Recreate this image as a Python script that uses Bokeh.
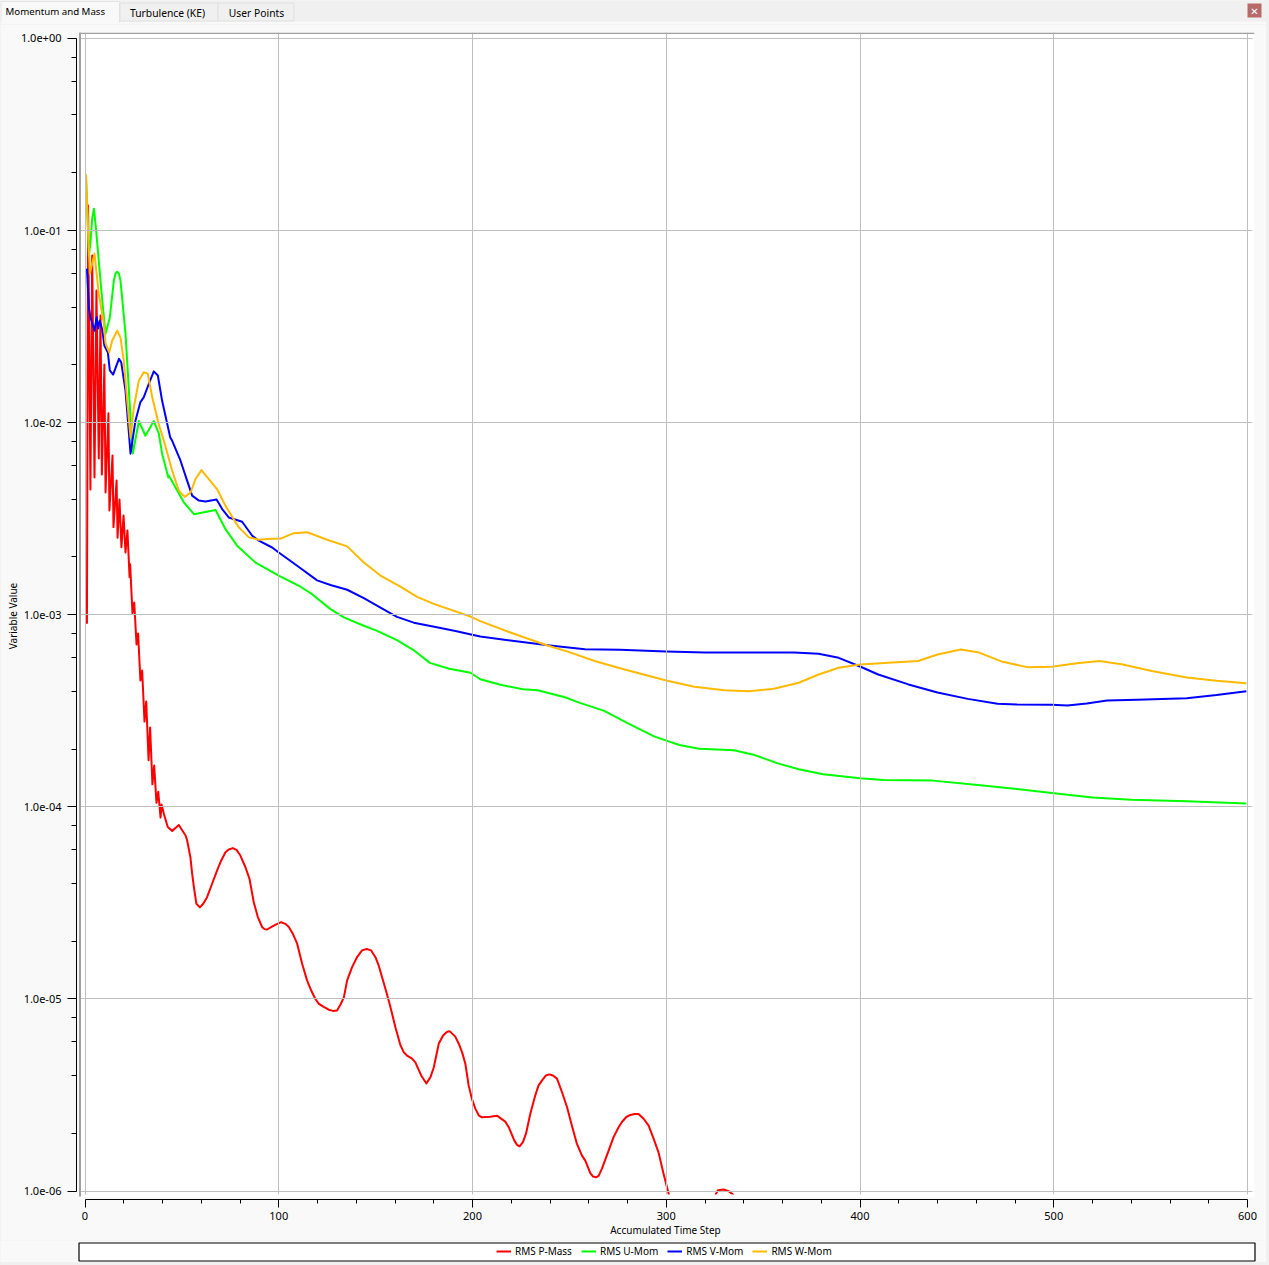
from bokeh.plotting import figure
from bokeh.layouts import column
from bokeh.models import (Range1d, LogAxis, LinearAxis, LogScale, FixedTicker, CustomJSTickFormatter, BoxAnnotation,
                          Legend, LegendItem, Grid)
from bokeh.core.properties import value
from bokeh.embed import file_html
from bokeh.resources import INLINE

nan = float("nan")

tab_labels = ["Momentum and Mass", "Turbulence (KE)", "User Points"]
x_title = "Accumulated Time Step"
y_title = "Variable Value"
series_names = ["RMS P-Mass", "RMS U-Mom", "RMS V-Mom", "RMS W-Mom"]
x_major = [0, 100, 200, 300, 400, 500, 600]
x_minor = [20, 40, 60, 80, 120, 140, 160, 180, 220, 240, 260, 280, 320, 340, 360, 380, 420, 440, 460, 480, 520, 540, 560, 580]
y_major = [1e0, 1e-1, 1e-2, 1e-3, 1e-4, 1e-5, 1e-6]

p_x_read = [1, 1.6, 2.8, 3.7, 4.9, 5.9, 7.1, 8, 8.7, 10, 10.6, 12.1, 12.6, 14.2, 14.7, 16.3, 16.8, 17.8, 18.8, 19.9, 20.9, 21.9, 23, 23.3,
       24.5, 25.4, 26.6, 27.4, 28.6, 29.5, 30.7, 31.6, 32.8, 33.6, 34.8, 35.7, 36.9, 37.8, 39, 39.5, 40.7, 42.7, 45, 48.4, 51.9, 54.4,
       56.2, 59.3, 63, 68.2, 72.5, 76.3, 80.2, 84.9, 87.1, 91.4, 94, 97.4, 101.2, 105.2, 109.5, 114.6, 118.9, 123.2, 128, 131.8, 135.3,
       140.4, 145.3, 149.9, 153.3, 157.6, 162.8, 166.2, 170.5, 176.2, 180, 182.6, 186.9, 188.2, 192.9, 196.3, 198, 201.5, 204.9, 212.6,
       216.9, 221.6, 224.3, 227.6, 232.4, 235.9, 239.6, 243.6, 248.8, 253.9, 258.2, 260.8, 263.7, 266.8, 272.8, 277.1, 281.4, 285.7,
       290.9, 296, 301.4, 310, 325.3, 326.7, 329.6, 332.2, 334.8]
p_y_read = [8.98e-4, .135, .00449, .0741, .00519, .0488, .00652, .0361, .00537, .0201, .00433, .0112, .00349, .00675, .00286, .005, .00252,
       .00398, .00225, .00329, .00211, .00275, .00157, .00183, .00102, .00116, 7.0e-4, 8.0e-4, 4.55e-4, 5.13e-4, 2.78e-4, 3.54e-4,
       1.75e-4, 2.59e-4, 1.31e-4, 1.64e-4, 1.05e-4, 1.2e-4, 8.8e-5, 1.03e-4, 9.2e-5, 7.85e-5, 7.5e-5, 8.05e-5, 7.1e-5, 5.47e-5,
       3.82e-5, 3.0e-5, 3.39e-5, 4.67e-5, 5.81e-5, 6.1e-5, 5.58e-5, 4.22e-5, 3.19e-5, 2.37e-5, 2.3e-5, 2.41e-5, 2.51e-5, 2.37e-5,
       1.94e-5, 1.25e-5, 1.0e-5, 9.1e-6, 8.67e-6, 9.33e-6, 1.25e-5, 1.65e-5, 1.82e-5, 1.65e-5, 1.3e-5, 9.1e-6, 5.75e-6, 5.07e-6,
       4.68e-6, 3.63e-6, 4.4e-6, 5.86e-6, 6.76e-6, 6.8e-6, 5.85e-6, 4.6e-6, 3.55e-6, 2.68e-6, 2.42e-6, 2.47e-6, 2.3e-6, 1.83e-6,
       1.71e-6, 1.99e-6, 3.15e-6, 3.77e-6, 4.05e-6, 3.85e-6, 2.73e-6, 1.76e-6, 1.44e-6, 1.24e-6, 1.18e-6, 1.31e-6, 1.91e-6, 2.29e-6,
       2.49e-6, 2.52e-6, 2.19e-6, 1.59e-6, 9.55e-7, nan, 9.55e-7, 1.01e-6, 1.02e-6, 1.0e-6, 9.55e-7]
# further readings from the enlarged crops, on the bends of the curve
p_x_more = [52.7, 55.3, 57.5, 61, 65.6, 70.3, 74.2, 78.2, 82.8, 89.2, 92.6, 103.5, 107.4, 112.1, 116.7, 120.7, 125.8, 130.1, 133.6, 137.9,
            143, 147.7, 151.6, 155.6, 160.2, 164.5, 168.8, 173.5, 178.3, 184.8, 191.1, 194.6, 199.7, 203.2, 209.2, 218.7, 223, 226, 229.8,
            234.1, 237.9, 241.5, 246.2, 251.3, 256.5, 262.2, 265.1, 270.3, 275.4, 279.4, 283.7, 288.3, 293.5, 298.6]
p_y_more = [6.7e-5, 4.49e-5, 3.13e-5, 3.13e-5, 3.98e-5, 5.26e-5, 6.0e-5, 5.97e-5, 4.85e-5, 2.67e-5, 2.31e-5, 2.46e-5, 2.17e-5, 1.52e-5, 1.11e-5,
            9.44e-6, 8.79e-6, 8.7e-6, 1.02e-5, 1.47e-5, 1.79e-5, 1.79e-5, 1.49e-5, 1.08e-5, 7.13e-6, 5.29e-6, 4.89e-6, 4.0e-6, 3.92e-6, 6.46e-6,
            6.37e-6, 5.29e-6, 3.02e-6, 2.48e-6, 2.44e-6, 2.15e-6, 1.74e-6, 1.8e-6, 2.52e-6, 3.55e-6, 4.0e-6, 4.0e-6, 3.27e-6, 2.19e-6, 1.53e-6,
            1.19e-6, 1.2e-6, 1.63e-6, 2.15e-6, 2.43e-6, 2.52e-6, 2.38e-6, 1.87e-6, 1.23e-6]
p_pairs = sorted(zip(p_x_read + p_x_more, p_y_read + p_y_more), key=lambda t: t[0])
p_x = [t[0] for t in p_pairs]
p_y = [t[1] for t in p_pairs]

u_x = [0.5, 2, 2.8, 3.7, 4.6, 5.6, 7.1, 8.9, 10.6, 12.8, 14.9, 15.7, 16.6, 17.5, 18.3, 20.9, 23.5, 24.7, 27.8, 31.2, 35.5, 38.1, 39.8, 43, 43.3, 51, 56.2,
       67.4, 72.5, 78.5, 88, 100, 111.2, 117.2, 126.7, 133.6, 143.9, 150.8, 161, 170, 178, 188, 199, 204, 214.4, 226, 233.6, 247.7, 255.4,
       268, 281, 294, 306.8, 317, 335, 345, 358, 368.4, 381, 400, 412, 437.7, 460.8, 481, 499, 520, 540, 568.6, 599.4]
u_y = [.196, .0741, .0866, .1156, .130, .104, .0698, .0432, .0291, .0352, .055, .0596, .0611, .0596, .055, .0291, .0106, .00692, .0102, .00855, .0102, .00877,
       .0069, .00519, 5.3e-3, 3.85e-3, 3.34e-3, 3.51e-3, 2.79e-3, 2.29e-3, 1.87e-3, 1.6e-3, 1.4e-3, 1.28e-3, 1.07e-3, 9.7e-4, 8.77e-4,
       8.24e-4, 7.38e-4, 6.5e-4, 5.62e-4, 5.24e-4, 4.99e-4, 4.62e-4, 4.32e-4, 4.1e-4, 4.05e-4, 3.72e-4, 3.48e-4, 3.16e-4, 2.7e-4, 2.32e-4,
       2.1e-4, 2.01e-4, 1.97e-4, 1.87e-4, 1.68e-4, 1.57e-4, 1.48e-4, 1.41e-4, 1.38e-4, 1.37e-4, 1.3e-4, 1.24e-4, 1.18e-4, 1.12e-4, 1.09e-4,
       1.07e-4, 1.04e-4]

v_x = [1, 2, 2.8, 4.9, 6, 6.8, 7.6, 8.9, 10, 11.8, 12.8, 14.5, 17.5, 18.7, 20.9, 23.5, 26, 28.6, 30.3, 33, 35.5, 37.6, 39.8, 44, 45, 49.3,
       52.7, 55.3, 58.8, 62.2, 67.9, 70.8, 74.2, 81.1, 86.3, 89.7, 96.6, 100, 109.5, 119.8, 126.7, 135.3, 143.9, 152.5, 161, 169.7, 178.3,
       191.2, 199.8, 204, 219.5, 240, 258, 276, 300, 320, 366, 378.6, 389, 400, 409.4, 425, 440, 455.6, 471, 481, 499, 507, 517, 527.5, 543,
       568.6, 584, 599.4]
v_y = [.0634, .0398, .0354, .0301, .0354, .0309, .034, .0305, .0252, .0232, .0187, .0178, .0215, .0206, .0147, .0069, .0102, .0128, .01355,
       .016, .0185, .0176, .013, .00838, .00805, 6.34e-3, 4.99e-3, 4.17e-3, 3.93e-3, 3.89e-3, 3.98e-3, 3.55e-3, 3.21e-3, 3.05e-3, 2.58e-3,
       2.43e-3, 2.24e-3, 2.11e-3, 1.8e-3, 1.51e-3, 1.43e-3, 1.35e-3, 1.22e-3, 1.09e-3, 9.75e-4, 9.1e-4, 8.75e-4, 8.24e-4, 7.87e-4, 7.7e-4,
       7.35e-4, 6.92e-4, 6.62e-4, 6.57e-4, 6.44e-4, 6.37e-4, 6.37e-4, 6.27e-4, 5.97e-4, 5.38e-4, 4.89e-4, 4.34e-4, 3.94e-4, 3.65e-4, 3.44e-4,
       3.41e-4, 3.40e-4, 3.37e-4, 3.45e-4, 3.58e-4, 3.61e-4, 3.68e-4, 3.82e-4, 4.0e-4]

w_x = [0.5, 1.5, 2.5, 4.9, 7.1, 9.7, 10.6, 12.5, 14, 16.6, 18.3, 20, 21.8, 23.5, 25.2, 27.8, 30.3, 32.4, 34.7, 38, 40.7, 45, 48.4, 51.5, 54.5,
       57, 60.1, 68.2, 72.5, 79.4, 84.6, 89.7, 95.7, 100.9, 107.8, 114.7, 125, 135.3, 143.9, 152.5, 162.8, 171.4, 180, 198.9, 204, 219.5, 237.5,
       250, 263, 278.5, 300, 314.5, 330, 342.7, 355.5, 368.4, 378.6, 389, 400, 414.6, 430, 440, 452, 460.8, 473.6, 486.4, 499, 512, 523.6, 535,
       550.6, 568.6, 584, 599.4]
w_y = [.196, .106, .0597, .0759, .047, .0328, .0259, .0232, .0267, .0301, .0278, .021, .013, .00838, .012, .0166, .0183, .018, .01355, .00988,
       8.05e-3, 5.62e-3, 4.43e-3, 4.11e-3, 4.33e-3, 5.08e-3, 5.66e-3, 4.5e-3, 3.69e-3, 2.85e-3, 2.53e-3, 2.46e-3, 2.49e-3, 2.49e-3, 2.66e-3,
       2.69e-3, 2.46e-3, 2.27e-3, 1.87e-3, 1.6e-3, 1.4e-3, 1.24e-3, 1.14e-3, 9.8e-4, 9.27e-4, 8.09e-4, 6.98e-4, 6.39e-4, 5.75e-4, 5.19e-4,
       4.55e-4, 4.22e-4, 4.05e-4, 4.0e-4, 4.12e-4, 4.43e-4, 4.89e-4, 5.3e-4, 5.51e-4, 5.62e-4, 5.75e-4, 6.21e-4, 6.6e-4, 6.39e-4, 5.69e-4,
       5.34e-4, 5.36e-4, 5.6e-4, 5.74e-4, 5.53e-4, 5.1e-4, 4.72e-4, 4.53e-4, 4.4e-4]

FONT = "Noto Sans"
PANEL = "#f9f9f9"
OUTER = "#f0f0f0"
GRID = "#bfbfbf"
INK = "#000000"
COLORS = ["#ff0000", "#00ff00", "#0000ff", "#ffb900"]
W = 1266
TOP_H = 24


def strip(h):
    return figure(width=W, height=h, output_backend="svg", toolbar_location=None, x_axis_type=None, y_axis_type=None,
                  x_range=Range1d(0, W), y_range=Range1d(h, 0), min_border=0, outline_line_color=None,
                  background_fill_color=PANEL, border_fill_color=PANEL, frame_align=False)


# ---------- tab strip ----------
top = strip(TOP_H)
top.quad(left=[0], right=[W], top=[0], bottom=[21], fill_color=OUTER, line_color=None)
top.quad(left=[0.5], right=[119], top=[1], bottom=[22], fill_color=PANEL, line_color="#e4e4e4")
top.quad(left=[1], right=[118.5], top=[20], bottom=[23], fill_color=PANEL, line_color=None)
top.quad(left=[119.5, 217.5], right=[217.5, 293.5], top=[2.5, 2.5], bottom=[20.5, 20.5], fill_color=OUTER, line_color="#e0e0e0")
top.quad(left=[1247], right=[1261], top=[3], bottom=[17], fill_color="#b86a6a", line_color=None)
top.text(x=[1254], y=[10.5], text=["\u2715"], text_font=value("DejaVu Sans"), text_font_size="10px", text_font_style="bold",
         text_color="#ffffff", text_align="center", text_baseline="middle")
top.text(x=[5], y=[11], text=[tab_labels[0]], text_font=value(FONT), text_font_size="9.7px", text_color=INK,
         text_align="left", text_baseline="middle")
top.text(x=[167, 256], y=[12, 12], text=tab_labels[1:], text_font=value(FONT), text_font_size="10.3px", text_color=INK,
         text_align="center", text_baseline="middle")

# ---------- main plot ----------
p = figure(width=W, height=1240 - TOP_H, output_backend="svg", toolbar_location=None, x_axis_type=None, y_axis_type=None,
           min_border_left=76, min_border_right=12, min_border_top=32 - TOP_H, min_border_bottom=41,
           x_range=Range1d(-4.39, 603.6), y_range=Range1d(9.04e-7, 1.0745), frame_align=False,
           background_fill_color=PANEL, border_fill_color=PANEL, outline_line_color=None)
p.y_scale = LogScale()


def box(l, r, t, b, fill, level="glyph"):
    bx = BoxAnnotation(left=l, right=r, top=t - TOP_H, bottom=b - TOP_H, left_units="canvas", right_units="canvas",
                       top_units="canvas", bottom_units="canvas", fill_color=fill, fill_alpha=1,
                       line_alpha=0, level=level)
    p.add_layout(bx)


box(78.5, 1254, 32, 1197, "#ffffff", level="underlay")

fmt = CustomJSTickFormatter(code="""
  const s = tick.toExponential(1);
  return s.replace(/e([+-])(\\d)$/, 'e$10$2');
""")

xa = LinearAxis(ticker=FixedTicker(ticks=x_major, minor_ticks=x_minor), bounds=(0, 600),
                axis_label=x_title, axis_label_text_font=FONT, axis_label_text_font_size="10px",
                axis_label_text_font_style="normal", axis_label_standoff=0,
                major_label_text_font=FONT, major_label_text_font_size="11px", major_label_standoff=4,
                major_tick_in=0, major_tick_out=8, minor_tick_in=0, minor_tick_out=4,
                axis_line_color=INK, major_tick_line_color=INK, minor_tick_line_color=INK,
                major_label_text_color=INK, axis_label_text_color=INK)
y_minor = [m * d for d in y_major[:-1] for m in (0.8, 0.6, 0.4, 0.2)]
ya = LogAxis(ticker=FixedTicker(ticks=y_major, minor_ticks=y_minor), bounds=(1e-6, 1.0), formatter=fmt,
             axis_label=y_title, axis_label_text_font=FONT, axis_label_text_font_size="10px",
             axis_label_text_font_style="normal", axis_label_standoff=-2,
             major_label_text_font=FONT, major_label_text_font_size="11px", major_label_standoff=6,
             major_tick_in=0, major_tick_out=9, minor_tick_in=0, minor_tick_out=5,
             axis_line_color=INK, major_tick_line_color=INK, minor_tick_line_color=INK,
             major_label_text_color=INK, axis_label_text_color=INK)
p.add_layout(xa, "below")
p.add_layout(ya, "left")

gx = Grid(dimension=0, axis=xa, ticker=xa.ticker, grid_line_color=GRID, grid_line_width=1, level="glyph",
          minor_grid_line_color=None, bounds=(0, 600))
gy = Grid(dimension=1, axis=ya, ticker=ya.ticker, grid_line_color=GRID, grid_line_width=1, level="glyph",
          minor_grid_line_color=None, bounds=(1e-6, 1.0))
p.add_layout(gx)
p.add_layout(gy)

# trim the grid lines to the reference's extent, and the frame's grey top/left edge
box(76, 78.5, 32, 1199, PANEL)
box(78.5, 1254, 1194, 1197, "#ffffff")
box(76, 1254, 1197, 1199, PANEL)
box(1252, 1254, 32, 1197, "#ffffff")
box(78.5, 80.5, 32, 1196, "#a0a0a0")
box(78.5, 1254, 32, 33.5, "#a0a0a0")

for xs, ys, c in zip([p_x, u_x, v_x, w_x], [p_y, u_y, v_y, w_y], COLORS):
    p.line(xs, ys, line_color=c, line_width=2, line_join="round")

# ---------- legend strip ----------
bot = strip(22)
bot.quad(left=[78.5], right=[1254.5], top=[2.5], bottom=[20.5], fill_color="#ffffff", line_color="#000000", line_width=1.2)
# legend keys only: these sit outside the strip's visible range
keys = [bot.line(x=[-20, -10], y=[-20, -20], line_color=c, line_width=2) for c in COLORS]
leg = Legend(items=[LegendItem(label=n, renderers=[r]) for n, r in zip(series_names, keys)],
             orientation="horizontal", location=(496, 4), padding=0, margin=0, spacing=9,
             glyph_width=15, glyph_height=12, label_standoff=4, label_text_font=FONT, label_text_font_size="10px",
             background_fill_alpha=0, border_line_alpha=0, label_text_color=INK, label_height=12)
bot.add_layout(leg, "center")

page = column(top, p, bot, spacing=0)
page.styles = {"position": "fixed", "left": "0px", "top": "0px", "width": "1269px", "height": "1265px",
               "background-color": OUTER}

open("out.html", "w").write(file_html(page, INLINE))
